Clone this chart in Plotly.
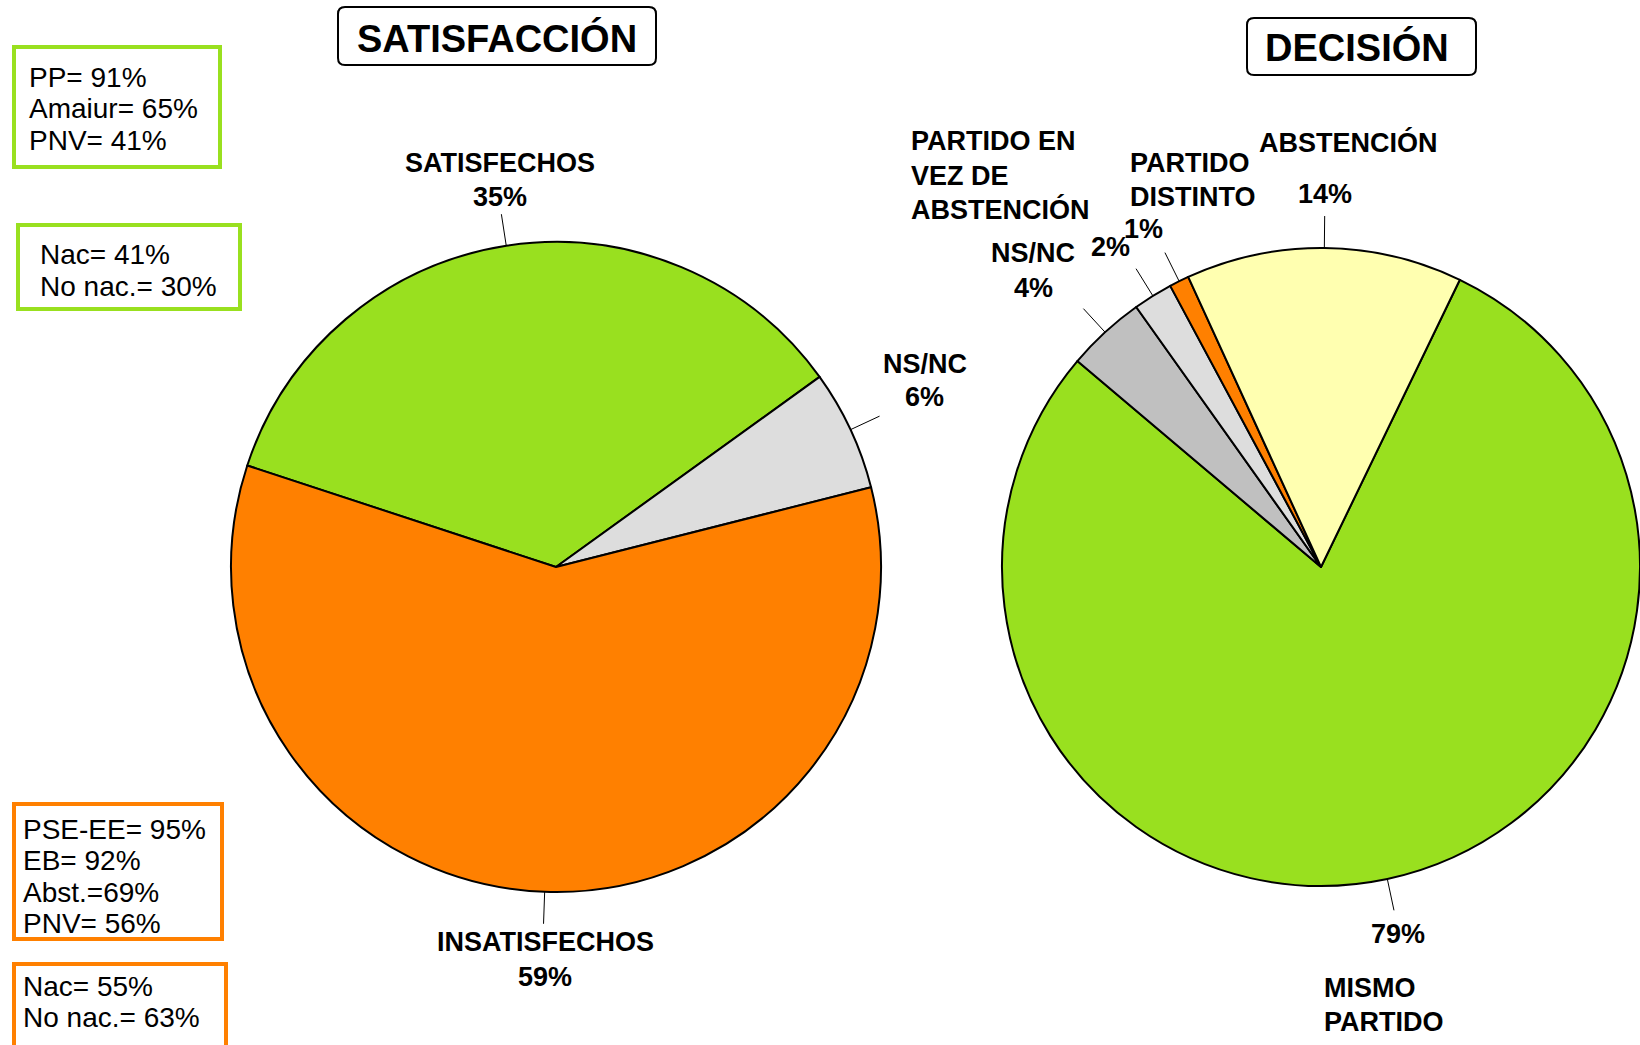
import math
import plotly.graph_objects as go

W, H = 1640, 1045

# --- data ---
sat_labels = ["SATISFECHOS", "NS/NC", "INSATISFECHOS"]
sat_values = [35, 6, 59]
sat_colors = ["#99E01F", "#DDDDDD", "#FF8000"]

dec_labels = ["MISMO PARTIDO", "NS/NC", "PARTIDO EN VEZ DE ABSTENCIÓN", "PARTIDO DISTINTO", "ABSTENCIÓN"]
dec_values = [79, 4, 2, 1, 14]
dec_colors = ["#99E01F", "#C0C0C0", "#DDDDDD", "#FF8000", "#FFFFB0"]

green_box_1 = ["PP= 91%", "Amaiur= 65%", "PNV= 41%"]
green_box_2 = ["Nac= 41%", "No nac.= 30%"]
orange_box_1 = ["PSE-EE= 95%", "EB= 92%", "Abst.=69%", "PNV= 56%"]
orange_box_2 = ["Nac= 55%", "No nac.= 63%"]

# pie geometry (pixels)
sat_cx, sat_cy, sat_r = 556, 567, 325
dec_cx, dec_cy = 1321, 567
dec_r = (W - (dec_cx - (W - dec_cx))) / 2
sat_rot, dec_rot = 288.2, 25.8


def px(x):
    return x / W


def py(y):
    return 1 - y / H


fig = go.Figure()

fig.add_trace(go.Pie(
    labels=sat_labels, values=sat_values, sort=False, direction="clockwise",
    rotation=sat_rot, textinfo="none", hoverinfo="label+percent",
    marker=dict(colors=sat_colors, line=dict(color="black", width=2)),
    domain=dict(x=[px(sat_cx - sat_r), px(sat_cx + sat_r)],
                y=[py(sat_cy + sat_r), py(sat_cy - sat_r)]),
    showlegend=False,
))
fig.add_trace(go.Pie(
    labels=dec_labels, values=dec_values, sort=False, direction="clockwise",
    rotation=dec_rot, textinfo="none", hoverinfo="label+percent",
    marker=dict(colors=dec_colors, line=dict(color="black", width=2)),
    domain=dict(x=[px(dec_cx - dec_r), 1.0],
                y=[py(dec_cy + dec_r), py(dec_cy - dec_r)]),
    showlegend=False,
))

shapes = []


def leaders(values, rot, cx, cy, r, length=32):
    total = sum(values)
    start = rot
    for v in values:
        span = 360 * v / total
        mid = math.radians(start + span / 2)
        x0, y0 = cx + r * math.sin(mid), cy - r * math.cos(mid)
        x1, y1 = cx + (r + length) * math.sin(mid), cy - (r + length) * math.cos(mid)
        shapes.append(dict(type="line", xref="paper", yref="paper",
                           x0=px(x0), y0=py(y0), x1=px(x1), y1=py(y1),
                           line=dict(color="black", width=1)))
        start += span


leaders(sat_values, sat_rot, sat_cx, sat_cy, sat_r)
leaders(dec_values, dec_rot, dec_cx, dec_cy, dec_r)

annotations = []
FONT = "Liberation Sans, Arial, sans-serif"


def text(x, y, s, size=27, bold=True, anchor="center", align="center"):
    if bold:
        s = "<b>" + s + "</b>"
    annotations.append(dict(x=px(x), y=py(y), xref="paper", yref="paper", text=s,
                            showarrow=False, xanchor=anchor, yanchor="middle", align=align,
                            font=dict(family=FONT, size=size, color="black")))


def box(x0, y0, x1, y1, lines, tx, ty0, color, dy=31.5):
    shapes.append(dict(type="rect", xref="paper", yref="paper",
                       x0=px(x0), y0=py(y1), x1=px(x1), y1=py(y0),
                       line=dict(color=color, width=4), fillcolor="white", layer="below"))
    for i, ln in enumerate(lines):
        text(tx, ty0 + i * dy, ln, size=28, bold=False, anchor="left", align="left")


def rounded(x0, y0, x1, y1, rad=7):
    # rounded rectangle path in paper coords (pixel inputs)
    X = lambda v: f"{px(v):.5f}"
    Y = lambda v: f"{py(v):.5f}"
    d = (f"M {X(x0 + rad)} {Y(y0)} L {X(x1 - rad)} {Y(y0)} Q {X(x1)} {Y(y0)} {X(x1)} {Y(y0 + rad)} "
         f"L {X(x1)} {Y(y1 - rad)} Q {X(x1)} {Y(y1)} {X(x1 - rad)} {Y(y1)} "
         f"L {X(x0 + rad)} {Y(y1)} Q {X(x0)} {Y(y1)} {X(x0)} {Y(y1 - rad)} "
         f"L {X(x0)} {Y(y0 + rad)} Q {X(x0)} {Y(y0)} {X(x0 + rad)} {Y(y0)} Z")
    shapes.append(dict(type="path", xref="paper", yref="paper", path=d,
                       line=dict(color="black", width=2), fillcolor="white", layer="below"))


box(14, 47, 220, 167, green_box_1, 27, 77, "#99E01F")
box(18, 225, 240, 309, green_box_2, 38, 254, "#99E01F", dy=33)
box(14, 804, 222, 939, orange_box_1, 21, 829, "#FF8000")
box(14, 964, 226, 1060, orange_box_2, 21, 986, "#FF8000")

# title boxes
rounded(338, 7, 656, 65)
text(497, 38, "SATISFACCIÓN", size=38)
rounded(1247, 18, 1476, 75)
text(1263, 48, "DECISIÓN", size=38, anchor="left", align="left")

# slice labels
text(500, 163, "SATISFECHOS")
text(500, 197, f"{sat_values[0]}%")
text(925, 364, "NS/NC")
text(925, 397, f"{sat_values[1]}%")
text(545, 942, "INSATISFECHOS")
text(545, 977, f"{sat_values[2]}%")

text(1398, 934, f"{dec_values[0]}%")
text(1322, 988, "MISMO", anchor="left", align="left")
text(1322, 1022, "PARTIDO", anchor="left", align="left")
text(1033, 253, "NS/NC")
text(1033, 288, f"{dec_values[1]}%")
text(909, 141, "PARTIDO EN", anchor="left", align="left")
text(909, 176, "VEZ DE", anchor="left", align="left")
text(909, 210, "ABSTENCIÓN", anchor="left", align="left")
text(1110, 247, f"{dec_values[2]}%")
text(1128, 163, "PARTIDO", anchor="left", align="left")
text(1128, 197, "DISTINTO", anchor="left", align="left")
text(1143, 229, f"{dec_values[3]}%")
text(1348, 143, "ABSTENCIÓN")
text(1325, 194, f"{dec_values[4]}%")

fig.update_layout(
    width=W, height=H,
    margin=dict(l=0, r=0, t=0, b=0),
    paper_bgcolor="white", plot_bgcolor="white",
    shapes=shapes, annotations=annotations,
    font=dict(family=FONT),
)

fig.write_html("out.html", config={"displayModeBar": False},
               post_script="document.body.style.margin='0px';document.body.style.overflow='hidden';")
